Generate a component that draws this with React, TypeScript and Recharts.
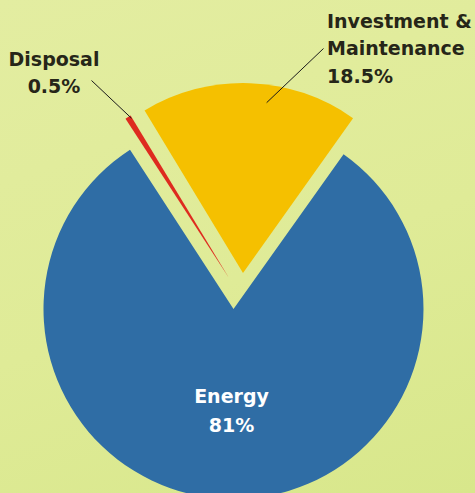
import React from 'react'
import { PieChart, Pie, Cell } from 'recharts'

const categories = ['Energy', 'Investment & Maintenance', 'Disposal']
const shares = [81, 18.5, 0.5]
const shareLabels = ['81%', '18.5%', '0.5%']
const nameLines = [['Energy'], ['Investment &', 'Maintenance'], ['Disposal']]

const sliceColors = ['#2f6da5', '#f5c000', '#de2b1f']
const textDark = '#262618'
const font = '"DejaVu Sans", Verdana, sans-serif'

const data = categories.map((name, i) => ({ name, value: shares[i] }))

// each slice gets its own pie so the two small ones can be pulled out
const pieCenters = [
  [233.5, 309],
  [243, 273],
  [229, 278],
]
const RADIUS = 190
const START = 123

const RAD = Math.PI / 180
function polar(cx: number, cy: number, r: number, angle: number) {
  return [cx + r * Math.cos(-angle * RAD), cy + r * Math.sin(-angle * RAD)]
}

function renderLabel(slice: number) {
  return (props: any) => {
    const idx = categories.indexOf(props.payload?.name ?? props.name)
    if (idx !== slice) return null
    const { cx, cy, midAngle, outerRadius } = props
    const lines = [...nameLines[idx], shareLabels[idx]]

    if (idx === 0) {
      const [x, y] = polar(cx, cy, outerRadius * 0.5, midAngle)
      return (
        <text
          x={x}
          y={y - 1}
          textAnchor="middle"
          fill="#ffffff"
          fontFamily={font}
          fontWeight="bold"
          fontSize={19}
        >
          {lines.map((l, i) => (
            <tspan key={l} x={x} dy={i === 0 ? 0 : 29}>
              {l}
            </tspan>
          ))}
        </text>
      )
    }

    if (idx === 1) {
      const [sx, sy] = polar(cx, cy, outerRadius * 0.905, midAngle - 5.8)
      return (
        <g>
          <line x1={sx} y1={sy} x2={323.5} y2={48.5} stroke="#1a1a1a" strokeWidth={1} />
          <text x={327} y={27.5} textAnchor="start" fill={textDark} fontFamily={font} fontWeight="bold" fontSize={19}>
            {lines.map((l, i) => (
              <tspan key={l} x={327} dy={i === 0 ? 0 : 27.7}>
                {l}
              </tspan>
            ))}
          </text>
        </g>
      )
    }

    const [sx, sy] = polar(cx, cy, outerRadius * 0.985, midAngle - 0.7)
    return (
      <g>
        <line x1={sx} y1={sy} x2={91.5} y2={80.5} stroke="#1a1a1a" strokeWidth={1} />
        <text x={54} y={65.5} textAnchor="middle" fill={textDark} fontFamily={font} fontWeight="bold" fontSize={19}>
          {lines.map((l, i) => (
            <tspan key={l} x={54} dy={i === 0 ? 0 : 27}>
              {l}
            </tspan>
          ))}
        </text>
      </g>
    )
  }
}

export default function App() {
  return (
    <div
      style={{
        position: 'fixed',
        left: 0,
        top: 0,
        width: 475,
        height: 493,
        background: 'linear-gradient(160deg, #e3eda1 0%, #dfeb97 55%, #d8e78b 100%)',
      }}
    >
      <PieChart width={475} height={493} margin={{ top: 0, right: 0, bottom: 0, left: 0 }}>
        {pieCenters.map(([cx, cy], p) => (
          <Pie
            key={categories[p]}
            data={data}
            dataKey="value"
            nameKey="name"
            cx={cx}
            cy={cy}
            outerRadius={RADIUS}
            startAngle={START}
            endAngle={START + 360}
            stroke="none"
            labelLine={false}
            label={renderLabel(p)}
            isAnimationActive={false}
          >
            {data.map((d, i) => (
              <Cell key={d.name} fill={i === p ? sliceColors[i] : 'none'} stroke="none" />
            ))}
          </Pie>
        ))}
      </PieChart>
    </div>
  )
}
